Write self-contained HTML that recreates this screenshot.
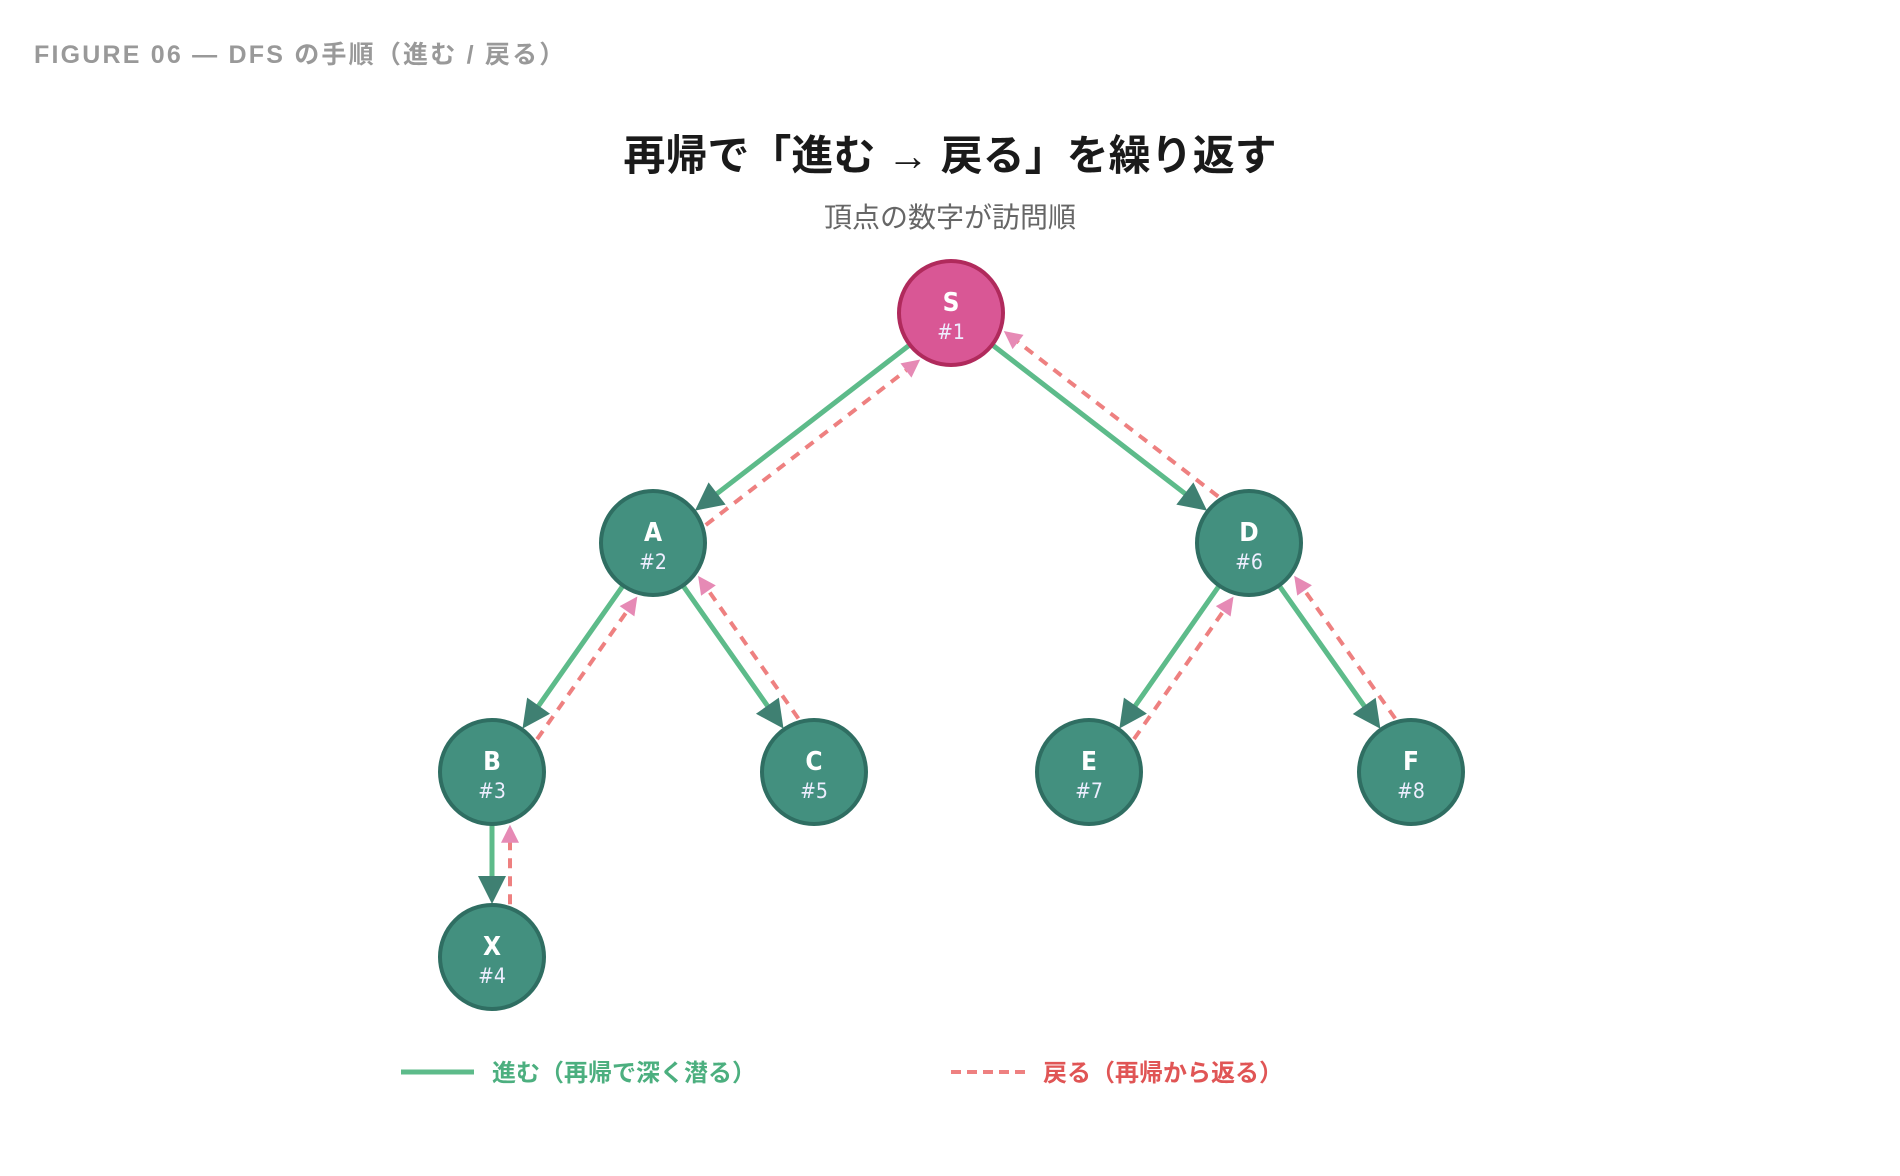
<!DOCTYPE html>
<html><head><meta charset="utf-8">
<style>
html,body{margin:0;padding:0;background:#fff;}
body{width:1900px;height:1176px;overflow:hidden;position:relative;font-family:"Liberation Sans","Noto Sans CJK JP",sans-serif;}
.hdr{position:absolute;left:34px;top:35px;font-size:25px;font-weight:600;color:#999;letter-spacing:2.2px;}
.title{position:absolute;left:0;width:1900px;top:122px;text-align:center;font-size:42px;font-weight:bold;color:#1a1a1a;}
.sub{position:absolute;left:0;width:1900px;top:196px;text-align:center;font-size:28px;color:#666;}
svg{position:absolute;left:0;top:0;}
</style></head><body>
<div class="hdr">FIGURE 06 — DFS の手順（進む / 戻る）</div>
<div class="title">再帰で「進む → 戻る」を繰り返す</div>
<div class="sub">頂点の数字が訪問順</div>
<svg id="g" width="1900" height="1176" xmlns="http://www.w3.org/2000/svg"></svg>
<script>
var N={S:[951,313,1],A:[653,543,2],D:[1249,543,6],B:[492,772,3],C:[814,772,5],E:[1089,772,7],F:[1411,772,8],X:[492,957,4]};
var E=[["S","A"],["S","D"],["A","B"],["A","C"],["D","E"],["D","F"],["B","X"]];
var r=52,s="";
function tri(tx,ty,ux,uy,L,W,c){var bx=tx-ux*L,by=ty-uy*L,nx=-uy,ny=ux;
return '<polygon points="'+tx+','+ty+' '+(bx+nx*W/2)+','+(by+ny*W/2)+' '+(bx-nx*W/2)+','+(by-ny*W/2)+'" fill="'+c+'"/>';}
E.forEach(function(e){var p=N[e[0]],c=N[e[1]];var dx=c[0]-p[0],dy=c[1]-p[1],d=Math.hypot(dx,dy),ux=dx/d,uy=dy/d,nx=uy,ny=-ux;
var x1=p[0]+ux*r,y1=p[1]+uy*r,tx=c[0]-ux*(r+1),ty=c[1]-uy*(r+1),L=28;
s+='<line x1="'+x1+'" y1="'+y1+'" x2="'+(tx-ux*(L-4))+'" y2="'+(ty-uy*(L-4))+'" stroke="#5dbb8a" stroke-width="5"/>';
s+=tri(tx,ty,ux,uy,L,28,"#3f8072");
var o=18,a=Math.sqrt(r*r-o*o)+4;
var sx=c[0]-ux*a+nx*o,sy=c[1]-uy*a+ny*o,ex=p[0]+ux*a+nx*o,ey=p[1]+uy*a+ny*o,l2=18;
s+='<line x1="'+sx+'" y1="'+sy+'" x2="'+(ex+ux*(l2-2))+'" y2="'+(ey+uy*(l2-2))+'" stroke="#ee8080" stroke-width="4" stroke-dasharray="10,8"/>';
s+=tri(ex,ey,-ux,-uy,l2,18,"#e68ab5");});
for(var k in N){var n=N[k],root=k=="S";
s+='<circle cx="'+n[0]+'" cy="'+n[1]+'" r="'+r+'" fill="'+(root?"#d95795":"#43907f")+'" stroke="'+(root?"#b02a5c":"#2f6e62")+'" stroke-width="4"/>';
s+='<text x="'+n[0]+'" y="'+(n[1]-2)+'" text-anchor="middle" font-size="26" font-weight="bold" fill="#fff" font-family="DejaVu Sans Condensed,Liberation Sans,sans-serif">'+k+'</text>';
s+='<text x="'+n[0]+'" y="'+(n[1]+26)+'" text-anchor="middle" font-size="21" fill="#eef" font-family="DejaVu Sans Condensed,Liberation Sans,sans-serif">#'+n[2]+'</text>';}
s+='<line x1="401" y1="1072" x2="474" y2="1072" stroke="#5dbb8a" stroke-width="5"/>';
s+='<text x="492" y="1081" font-size="24" font-weight="bold" fill="#4caf7f" font-family="Liberation Sans,Noto Sans CJK JP,sans-serif">進む（再帰で深く潜る）</text>';
s+='<line x1="951" y1="1072" x2="1025" y2="1072" stroke="#ee8080" stroke-width="4" stroke-dasharray="10,6"/>';
s+='<text x="1043" y="1081" font-size="24" font-weight="bold" fill="#e05555" font-family="Liberation Sans,Noto Sans CJK JP,sans-serif">戻る（再帰から返る）</text>';
document.getElementById("g").innerHTML=s;
</script>
</body></html>
